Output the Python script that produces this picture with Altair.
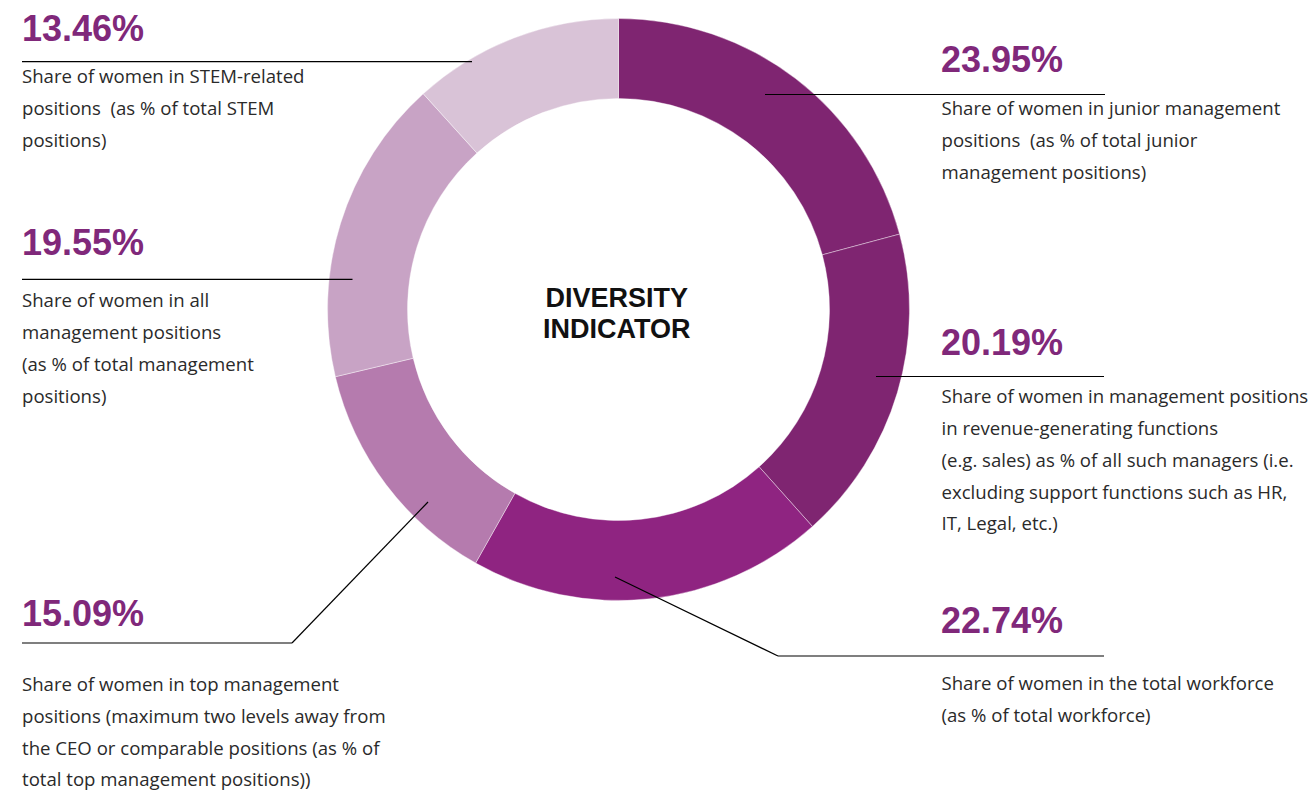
import altair as alt
import pandas as pd

# ---- data ----
categories = [
    "Junior management",
    "Revenue-generating management",
    "Total workforce",
    "Top management",
    "All management",
    "STEM-related positions",
]
values = [23.95, 20.19, 22.74, 15.09, 19.55, 13.46]
pct_labels = ["23.95%", "20.19%", "22.74%", "15.09%", "19.55%", "13.46%"]
descriptions = [
    "Share of women in junior management\npositions\u00a0 (as % of total junior\nmanagement positions)",
    "Share of women in management positions\nin revenue-generating functions\n(e.g. sales) as % of all such managers (i.e.\nexcluding support functions such as HR,\nIT, Legal, etc.)",
    "Share of women in the total workforce\n(as % of total workforce)",
    "Share of women in top management\npositions (maximum two levels away from\nthe CEO or comparable positions (as % of\ntotal top management positions))",
    "Share of women in all\nmanagement positions\n(as % of total management\npositions)",
    "Share of women in STEM-related\npositions\u00a0 (as % of total STEM\npositions)",
]
center_title = "DIVERSITY\nINDICATOR"

# ---- styles / layout (chart coordinates, page minus 8px margin) ----
slice_colors = ["#7f2571", "#7f2571", "#8f2481", "#b57bae", "#c8a3c5", "#d9c3d7"]
W, H = 1300, 784
CX, CY = 610.5, 301.5
R_OUT, R_IN = 291, 211

pct_x = [933, 933, 933, 14, 14, 14]
pct_y = [63.7, 347, 625.3, 617.7, 247, 32.7]
desc_x = [933.5, 933.5, 933.5, 14, 14, 14]
desc_y = [107, 395.3, 682, 683, 299.3, 75]
desc_lh = 31.8

seg_x = [757, 868, 607, 770, 420, 284, 344.5, 464]
seg_y = [86.5, 368.5, 569, 648, 494, 635, 271.3, 53.7]
seg_x2 = [1097, 1096, 770, 1096, 284, 14, 14, 14]
seg_y2 = [86.5, 368.5, 648, 648, 635, 635, 271.3, 53.7]

df = pd.DataFrame({
    "category": categories,
    "value": values,
    "idx": list(range(len(categories))),
    "pct": pct_labels,
    "desc": descriptions,
    "px": pct_x, "py": pct_y, "dx": desc_x, "dy": desc_y,
})
segs = pd.DataFrame({"x": seg_x, "y": seg_y, "x2": seg_x2, "y2": seg_y2})

xs = alt.Scale(domain=[0, W], nice=False, zero=False)
ys = alt.Scale(domain=[0, H], nice=False, zero=False, reverse=True)

arcs = alt.Chart(df).mark_arc(
    innerRadius=R_IN, outerRadius=R_OUT, stroke="#ffffff", strokeWidth=0.4
).encode(
    theta=alt.Theta("value:Q", stack=True),
    order=alt.Order("idx:Q"),
    color=alt.Color("category:N", scale=alt.Scale(domain=categories, range=slice_colors), legend=None),
    x=alt.value(CX),
    y=alt.value(CY),
)

lines = alt.Chart(segs).mark_rule(color="#000000", strokeWidth=1.2).encode(
    x=alt.X("x:Q", scale=xs, axis=None),
    y=alt.Y("y:Q", scale=ys, axis=None),
    x2="x2:Q",
    y2="y2:Q",
)

pcts = alt.Chart(df).mark_text(
    align="left", baseline="alphabetic", font="Liberation Sans", fontWeight="bold",
    fontSize=36, color="#80287a",
).encode(
    x=alt.X("px:Q", scale=xs, axis=None),
    y=alt.Y("py:Q", scale=ys, axis=None),
    text="pct:N",
)

descs = alt.Chart(df).mark_text(
    align="left", baseline="alphabetic", font="Open Sans", fontSize=18.6,
    color="#2a2a2a", lineBreak="\n", lineHeight=desc_lh,
).encode(
    x=alt.X("dx:Q", scale=xs, axis=None),
    y=alt.Y("dy:Q", scale=ys, axis=None),
    text="desc:N",
)

center = alt.Chart(pd.DataFrame({"t": [center_title]})).mark_text(
    align="center", baseline="alphabetic", font="Liberation Sans", fontWeight="bold",
    fontSize=27, color="#111111", lineBreak="\n", lineHeight=31.7,
).encode(
    x=alt.value(608.7),
    y=alt.value(298.7),
    text="t:N",
)

chart = alt.layer(arcs, lines, pcts, descs, center).properties(
    width=W, height=H,
    autosize=alt.AutoSizeParams(type="none"),
    padding=0,
).configure_view(stroke=None)

chart.save("out.html", embed_options={"renderer": "svg", "actions": False})
